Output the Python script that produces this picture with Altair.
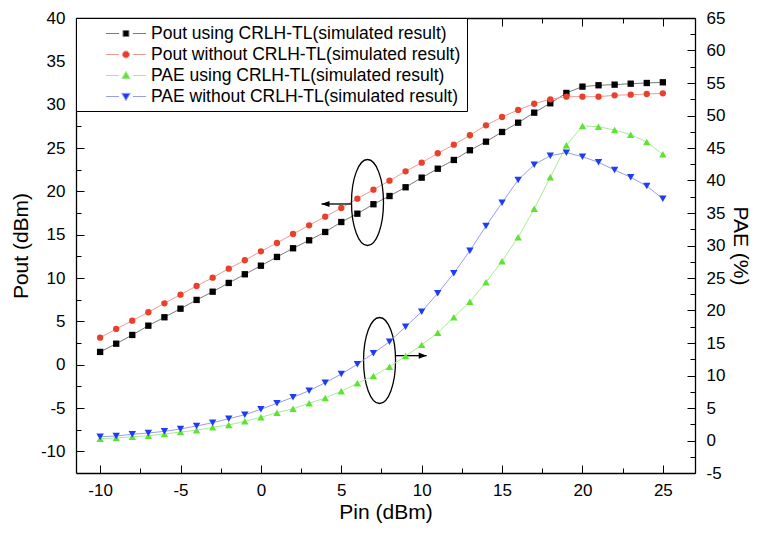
import altair as alt
import pandas as pd

FONT = "Liberation Sans"

# ---------------- data ----------------
pin = [-10, -9, -8, -7, -6, -5, -4, -3, -2, -1, 0, 1, 2, 3, 4, 5, 6, 7,
       8, 9, 10, 11, 12, 13, 14, 15, 16, 17, 18, 19, 20, 21, 22, 23, 24, 25]

pout_crlh = [1.47, 2.42, 3.43, 4.50, 5.47, 6.46, 7.47, 8.42, 9.43, 10.43, 11.42, 12.43,
             13.43, 14.35, 15.31, 16.46, 17.42, 18.51, 19.46, 20.47, 21.58, 22.61, 23.62, 24.74,
             25.73, 26.85, 27.92, 29.08, 30.16, 31.35, 32.08, 32.24, 32.31, 32.42, 32.50, 32.58]
pout_plain = [3.12, 4.12, 5.08, 6.05, 7.08, 8.08, 9.08, 10.04, 11.08, 12.05, 13.08, 14.04,
              15.08, 16.08, 17.08, 18.08, 19.15, 20.19, 21.23, 22.31, 23.31, 24.39, 25.38, 26.47,
              27.62, 28.58, 29.39, 30.11, 30.62, 30.92, 30.92, 30.92, 31.08, 31.15, 31.23, 31.31]
pae_crlh = [0.28, 0.38, 0.58, 0.74, 1.00, 1.31, 1.57, 2.03, 2.38, 2.95, 3.57, 4.28,
            4.89, 5.72, 6.54, 7.57, 8.80, 9.92, 11.35, 13.00, 14.71, 16.58, 18.95, 21.35,
            24.34, 27.57, 31.26, 35.66, 40.49, 45.42, 48.38, 48.28, 47.77, 47.05, 45.92, 44.03]
pae_plain = [0.58, 0.69, 0.95, 1.15, 1.41, 1.77, 2.23, 2.74, 3.35, 3.97, 4.80, 5.72,
             6.65, 7.66, 8.89, 10.23, 11.72, 13.42, 15.20, 17.50, 19.82, 22.65, 25.72, 29.20,
             33.00, 36.58, 40.08, 42.43, 43.82, 44.28, 43.66, 42.80, 41.62, 40.49, 39.15, 37.20]

names = ["Pout using CRLH-TL(simulated result)",
         "Pout without CRLH-TL(simulated result)",
         "PAE using CRLH-TL(simulated result)",
         "PAE without CRLH-TL(simulated result)"]
marker_colors = ["#000000", "#e8402c", "#5fe331", "#1f3cf2"]
line_colors = ["#7a7a7a", "#f29a92", "#a6ec96", "#9a9cf0"]

x_ticks = [-10, -7.5, -5, -2.5, 0, 2.5, 5, 7.5, 10, 12.5, 15, 17.5, 20, 22.5, 25]
pout_ticks = [-10, -7.5, -5, -2.5, 0, 2.5, 5, 7.5, 10, 12.5, 15, 17.5, 20, 22.5,
              25, 27.5, 30, 32.5, 35, 37.5, 40]
pae_ticks = [-5, -2.5, 0, 2.5, 5, 7.5, 10, 12.5, 15, 17.5, 20, 22.5, 25, 27.5, 30,
             32.5, 35, 37.5, 40, 42.5, 45, 47.5, 50, 52.5, 55, 57.5, 60, 62.5, 65]

x_domain = [-11.5, 27]
pout_domain = [-12.5, 40]
pae_domain = [-5, 65]

# annotation (ellipses + arrows), in Pin / Pout units
ellipse_pin = [6.63, 7.38]
ellipse_pout = [18.71, 0.48]
arrow_start = [5.64, 8.38]
arrow_tip = [3.77, 10.31]
arrow_pout = [18.54, 1.04]
arrow_dir = ["left", "right"]

# ---------------- tables ----------------
pout_df = pd.DataFrame({"Pin": pin + pin, "value": pout_crlh + pout_plain,
                        "series": [names[0]] * len(pin) + [names[1]] * len(pin)})
pae_df = pd.DataFrame({"Pin": pin + pin, "value": pae_crlh + pae_plain,
                       "series": [names[2]] * len(pin) + [names[3]] * len(pin)})
ell_df = pd.DataFrame({"Pin": ellipse_pin, "value": ellipse_pout})
arr_df = pd.DataFrame({"Pin": arrow_start, "tip": arrow_tip, "value": arrow_pout, "dir": arrow_dir})
leg_df = pd.DataFrame({"name": names})

# ---------------- shapes ----------------
ELLIPSE = "M-0.372,0A0.372,1 0 1,1 0.372,0A0.372,1 0 1,1 -0.372,0Z"
HEAD_LEFT = "M0,0L1,-0.38L1,0.38Z"
HEAD_RIGHT = "M0,0L-1,-0.38L-1,0.38Z"
SEG = "M1.61,0H3.06M4.61,0H6.06"
legend_paths = [
    SEG + "M3.5,-0.33H4.16V0.33H3.5Z",
    SEG + "M3.44,0A0.39,0.39 0 1,1 4.22,0A0.39,0.39 0 1,1 3.44,0Z",
    SEG + "M3.83,-0.45L4.3,0.35H3.36Z",
    SEG + "M3.83,0.45L4.3,-0.35H3.36Z",
]

# ---------------- axes ----------------
dash_rule = {"condition": {"test": "abs(datum.value % 5) < 0.01", "value": [8, 3000]},
             "value": [5, 3000]}
label_rule = "abs(datum.value % 5) < 0.01 ? toString(datum.value) : ''"
common = dict(ticks=False, grid=True, gridColor="black", gridOpacity=1, gridWidth=1,
              gridDash=dash_rule, domain=True, domainColor="black", domainWidth=1.3,
              labelFont=FONT, labelFontSize=17, labelColor="black",
              titleFont=FONT, titleFontSize=21, titleFontWeight="normal", titleColor="black")

x_bottom = alt.Axis(orient="bottom", values=x_ticks, labelExpr=label_rule, labelPadding=9,
                    title="Pin (dBm)", titlePadding=3, **common)
x_top = alt.Axis(orient="top", values=x_ticks, labels=False, title="", **common)
y_left = alt.Axis(orient="left", values=pout_ticks, labelExpr=label_rule, labelPadding=11,
                  title="Pout (dBm)", titlePadding=9, **common)
y_right = alt.Axis(orient="right", values=pae_ticks, labelExpr=label_rule, labelPadding=11,
                   title="PAE (%)", titlePadding=5, **common)

x_scale = alt.Scale(domain=x_domain, nice=False, zero=False)
pout_scale = alt.Scale(domain=pout_domain, nice=False, zero=False)
pae_scale = alt.Scale(domain=pae_domain, nice=False, zero=False)

X_POUT = alt.X("Pin:Q", scale=x_scale, axis=x_bottom)
Y_POUT = alt.Y("value:Q", scale=pout_scale, axis=y_left)

# ---------------- Pout group ----------------
pout_line = alt.Chart(pout_df).mark_line(strokeWidth=1).encode(
    x=X_POUT, y=Y_POUT,
    stroke=alt.Stroke("series:N", scale=alt.Scale(domain=names[:2], range=line_colors[:2]), legend=None),
)
pout_pts = alt.Chart(pout_df).mark_point(filled=True, opacity=1, size=40).encode(
    x=X_POUT, y=Y_POUT,
    color=alt.Color("series:N", scale=alt.Scale(domain=names[:2], range=marker_colors[:2]), legend=None),
    shape=alt.Shape("series:N", scale=alt.Scale(domain=names[:2], range=["square", "circle"]), legend=None),
)
ellipses = alt.Chart(ell_df).mark_point(shape=ELLIPSE, size=7396, filled=False, color="black",
                                        strokeWidth=1.3, opacity=1).encode(x=X_POUT, y=Y_POUT)
shafts = alt.Chart(arr_df).mark_rule(color="black", strokeWidth=1.3).encode(
    x=X_POUT, x2="tip:Q", y=Y_POUT)
head_l = alt.Chart(arr_df).transform_filter(alt.datum.dir == "left").mark_point(
    shape=HEAD_LEFT, size=256, filled=True, color="black", opacity=1).encode(
    x=alt.X("tip:Q", scale=x_scale, axis=x_bottom), y=Y_POUT)
head_r = alt.Chart(arr_df).transform_filter(alt.datum.dir == "right").mark_point(
    shape=HEAD_RIGHT, size=256, filled=True, color="black", opacity=1).encode(
    x=alt.X("tip:Q", scale=x_scale, axis=x_bottom), y=Y_POUT)
left_group = alt.layer(pout_line, pout_pts, ellipses, shafts, head_l, head_r)

# ---------------- PAE group ----------------
X_PAE = alt.X("Pin:Q", scale=x_scale, axis=x_top)
Y_PAE = alt.Y("value:Q", scale=pae_scale, axis=y_right)
pae_line = alt.Chart(pae_df).mark_line(strokeWidth=1).encode(
    x=X_PAE, y=Y_PAE,
    stroke=alt.Stroke("series:N", scale=alt.Scale(domain=names[2:], range=line_colors[2:]), legend=None),
)
pae_pts = alt.Chart(pae_df).mark_point(filled=True, opacity=1, size=55).encode(
    x=X_PAE, y=Y_PAE,
    color=alt.Color("series:N", scale=alt.Scale(domain=names[2:], range=marker_colors[2:]), legend=None),
    shape=alt.Shape("series:N", scale=alt.Scale(domain=names[2:], range=["triangle-up", "triangle-down"]), legend=None),
)
right_group = alt.layer(pae_line, pae_pts)

# ---------------- legend ----------------
legend_def = alt.Legend(title=None, orient="top-left", offset=0, padding=6,
                        strokeColor="black", fillColor="white",
                        labelFont=FONT, labelFontSize=17.5, labelColor="black", labelLimit=600,
                        labelOffset=50, rowPadding=3, symbolSize=324, symbolStrokeWidth=1,
                        symbolFillColor="black", symbolStrokeColor="black", symbolOpacity=1)
legend_layer = alt.Chart(leg_df).mark_point(filled=True, opacity=0).encode(
    shape=alt.Shape("name:N", scale=alt.Scale(domain=names, range=legend_paths), legend=legend_def),
    fill=alt.Fill("name:N", scale=alt.Scale(domain=names, range=marker_colors), legend=legend_def),
    stroke=alt.Stroke("name:N", scale=alt.Scale(domain=names, range=line_colors), legend=legend_def),
)

chart = alt.layer(left_group, right_group, legend_layer).resolve_scale(
    y="independent", color="independent", stroke="independent",
    shape="independent", fill="independent"
).properties(
    width=619, height=455,
    autosize=alt.AutoSizeParams(type="none"),
    padding={"left": 68, "top": 10, "right": 58, "bottom": 50},
).configure_view(strokeWidth=0)

chart.save("out.html", embed_options={"renderer": "svg", "actions": False})
